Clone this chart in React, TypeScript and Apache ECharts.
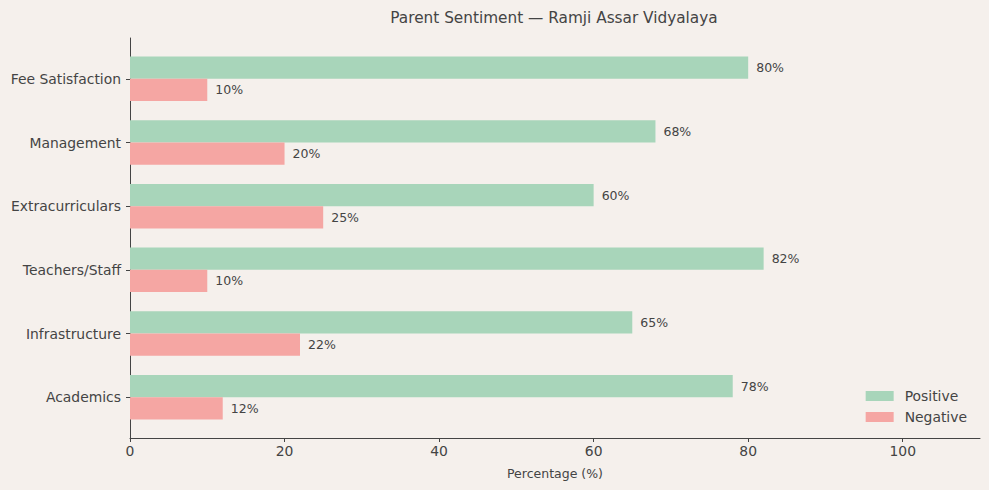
import { useEffect, useRef } from "react";
import * as echarts from "echarts";

const categories = ["Academics", "Infrastructure", "Teachers/Staff", "Extracurriculars", "Management", "Fee Satisfaction"];
const positive = [78, 65, 82, 60, 68, 80];
const negative = [12, 22, 10, 25, 20, 10];

const FONT = "DejaVu Sans";
const INK = "#444444";

export default function App() {
  const ref = useRef<HTMLDivElement>(null);

  useEffect(() => {
    document.body.style.margin = "0";
    if (!ref.current) return;
    const chart = echarts.init(ref.current, null, { renderer: "svg" });
    const label = {
      show: true,
      position: "right" as const,
      distance: 8,
      formatter: (p: any) => p.value + "%",
      color: INK,
      fontSize: 12.5,
      fontFamily: FONT,
    };
    chart.setOption({
      animation: false,
      backgroundColor: "#f5f0ec",
      textStyle: { fontFamily: FONT },
      title: {
        text: "Parent Sentiment — Ramji Assar Vidyalaya",
        left: 549, top: 5, textAlign: "center",
        textStyle: { color: INK, fontSize: 15.3, fontWeight: "normal", fontFamily: FONT },
      },
      // grid 0 holds the bars (with matplotlib-style padding), grid 1 only draws the frame
      grid: [
        { left: 130, right: 9, top: 47, bottom: 61 },
        { left: 130, right: 9, top: 38, bottom: 52 },
      ],
      legend: {
        data: ["Positive", "Negative"],
        orient: "vertical",
        right: 17, top: 384,
        icon: "rect",
        itemWidth: 28, itemHeight: 10, itemGap: 7,
        textStyle: { color: INK, fontSize: 13.9, fontFamily: FONT, padding: [0, 0, 0, 6] },
      },
      xAxis: [
        {
          gridIndex: 0, type: "value", min: 0, max: 110, interval: 20,
          show: false,
        },
        {
          gridIndex: 1, type: "value", min: 0, max: 110, interval: 20,
          name: "Percentage (%)", nameLocation: "middle", nameGap: 29,
          nameTextStyle: { color: INK, fontSize: 12.5, fontFamily: FONT },
          axisLine: { show: true, lineStyle: { color: INK } },
          axisTick: { show: true, length: 4, lineStyle: { color: INK } },
          axisLabel: { color: INK, fontSize: 13.9, margin: 6, fontFamily: FONT, showMaxLabel: false },
          splitLine: { show: false },
        },
      ],
      yAxis: [
        {
          gridIndex: 0, type: "category", data: categories,
          axisLine: { show: false },
          axisTick: { show: true, length: 4, alignWithLabel: true, lineStyle: { color: INK } },
          axisLabel: { color: INK, fontSize: 13.9, margin: 9, fontFamily: FONT },
        },
        {
          gridIndex: 1, type: "value", min: 0, max: 1,
          axisLine: { show: true, lineStyle: { color: INK } },
          axisTick: { show: false },
          axisLabel: { show: false },
          splitLine: { show: false },
        },
      ],
      series: [
        {
          name: "Positive", type: "bar", data: positive,
          xAxisIndex: 0, yAxisIndex: 0,
          barGap: "0%", barCategoryGap: "30%",
          itemStyle: { color: "#a8d5ba" }, label,
        },
        {
          name: "Negative", type: "bar", data: negative,
          xAxisIndex: 0, yAxisIndex: 0,
          itemStyle: { color: "#f5a6a3" }, label,
        },
      ],
    });
    return () => chart.dispose();
  }, []);

  return <div ref={ref} style={{ width: 989, height: 490 }} />;
}
